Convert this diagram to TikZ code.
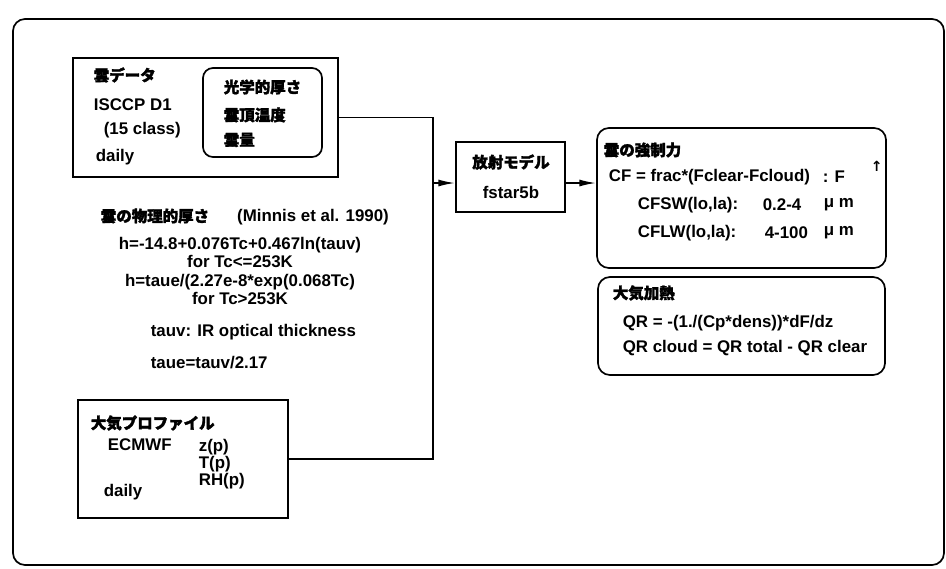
\documentclass[tikz,border=0pt]{standalone}
\usepackage{fontspec}
\setmainfont{Liberation Sans}
\newfontfamily\jpfont{Noto Sans CJK JP}[FakeBold=2]
\newfontfamily\symfont{DejaVu Sans}
\newcommand\jtext[1]{{\jpfont\fontsize{11}{13}\selectfont #1}}
\usetikzlibrary{arrows.meta}

\begin{document}
\begin{tikzpicture}[x=0.025cm, y=-0.025cm, line width=1.2pt,
		font=\fontsize{12}{14}\selectfont\bfseries,
		>={Latex[length=12pt,width=5pt]}]
		\useasboundingbox (0,0) rectangle (946,568);
		\draw[rounded corners=0.3cm] (13,19) rectangle (944,565);
		\begin{scope}[every node/.style={draw, inner sep=0pt}]
			\node[minimum width=6.625cm, minimum height=2.975cm] (cloud) at (205.5,117.5) {};
			\node[rounded corners=0.25cm, minimum width=2.975cm, minimum height=2.225cm] (param) at (262.5,112.5) {};
			\node[minimum width=5.25cm, minimum height=2.95cm] (profile) at (183,459) {};
			\node[minimum width=2.725cm, minimum height=1.75cm] (model) at (510.5,177) {};
			\node[rounded corners=0.3cm, minimum width=7.225cm, minimum height=3.5cm] (forcing) at (741.5,198) {};
			\node[rounded corners=0.3cm, minimum width=7.175cm, minimum height=2.45cm] (heating) at (741.5,326) {};
		\end{scope}
		\begin{scope}[every node/.style={anchor=west, inner sep=0pt}]
			\node (c1) at (93,75) {\jtext{雲データ}};
			\node (c2) at (93,105) {ISCCP D1};
			\node (c3) at (103,130) {(15 class)};
			\node (c4) at (95,157) {daily};
			\node (p1) at (223,87) {\jtext{光学的厚さ}};
			\node (p2) at (223,115) {\jtext{雲頂温度}};
			\node (p3) at (223,140) {\jtext{雲量}};
			\node (h0) at (100,217) {\jtext{雲の物理的厚さ}\hspace{20pt}(Minnis et al. 1990)};
			\node (h5) at (150,332) {tauv: IR optical thickness};
			\node (h6) at (150,363) {taue=tauv/2.17};
			\node (a1) at (90,423) {\jtext{大気プロファイル}};
			\node (a2) at (107,445) {ECMWF};
			\node[anchor=north west, align=left, font=\fontsize{12}{10.5}\selectfont\bfseries] (a3) at (198,438) {z(p)\\T(p)\\RH(p)};
			\node (a6) at (103,492) {daily};
			\node (f1) at (603,150) {\jtext{雲の強制力}};
			\node (f2) at (608,177) {CF = frac*(Fclear-Fcloud)};
			\node (f3) at (822,177) {: F};
			\node (f4) at (870,166) {\symfont\fontsize{10}{10}\selectfont ↑};
			\node (f5) at (637,205) {CFSW(lo,la):};
			\node (f6) at (762,205) {0.2-4};
			\node (f7) at (823,205) {μ m};
			\node (f8) at (637,233) {CFLW(lo,la):};
			\node (f9) at (764,233) {4-100};
			\node (f10) at (823,233) {μ m};
			\node (q1) at (612,293) {\jtext{大気加熱}};
			\node (q2) at (622,323) {QR = -(1./(Cp*dens))*dF/dz};
			\node (q3) at (622,348) {QR cloud = QR total - QR clear};
		\end{scope}
		\begin{scope}[every node/.style={inner sep=0pt}]
			\node[align=center, font=\fontsize{12}{13}\selectfont\bfseries] (h1) at (240,271) {h=-14.8+0.076Tc+0.467ln(tauv)\\for Tc<=253K\\h=taue/(2.27e-8*exp(0.068Tc)\\for Tc>253K};
			\node (m1) at (511,162) {\jtext{放射モデル}};
			\node (m2) at (511,192) {fstar5b};
		\end{scope}
		\coordinate (bus) at (433,183);
		\draw (cloud.east) -| (bus) -- (bus |- profile.east) -- (profile.east);
		\draw [->] (bus) -- (bus -| model.west);
		\draw [->] (bus -| model.east) -- (bus -| forcing.west);
	\end{tikzpicture}
\end{document}
